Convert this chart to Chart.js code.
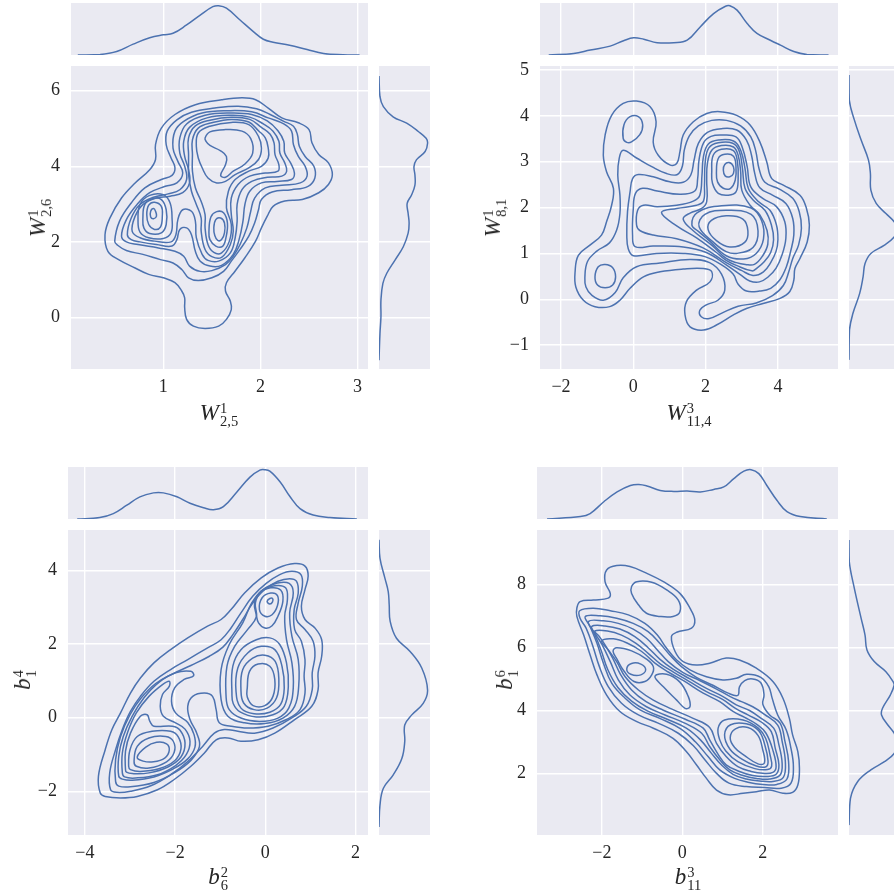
<!DOCTYPE html>
<html>
<head>
<meta charset="utf-8">
<script src="https://cdn.jsdelivr.net/npm/chart.js"></script>
<style>
html,body{margin:0;padding:0;background:#fff;width:894px;height:890px;overflow:hidden;position:relative;}
.cv{position:absolute;}
.alab{position:absolute;font-family:'Liberation Serif','DejaVu Serif',serif;font-size:23px;color:#262626;white-space:nowrap;display:flex;align-items:center;line-height:1;}
.alab .ss{display:inline-flex;flex-direction:column;align-items:flex-start;font-size:14.5px;line-height:13px;margin-left:1px;position:relative;top:3px;}
</style>
</head>
<body>
<script>
// ---------------- DATA ----------------
// Tick values
const p1XTicks=[1,2,3], p1YTicks=[0,2,4,6];
const p2XTicks=[-2,0,2,4], p2YTicks=[-1,0,1,2,3,4,5];
const p3XTicks=[-4,-2,0,2], p3YTicks=[-2,0,2,4];
const p4XTicks=[-2,0,2], p4YTicks=[2,4,6,8];

// Axis labels [symbol, superscript, subscript]
const p1XLabel=['W','1','2,5'], p1YLabel=['W','1','2,6'];
const p2XLabel=['W','3','11,4'], p2YLabel=['W','1','8,1'];
const p3XLabel=['b','2','6'], p3YLabel=['b','4','1'];
const p4XLabel=['b','3','11'], p4YLabel=['b','6','1'];

// ---- Panel 1 KDE contour lines (x, y) ----
const p1c1=[[0.40,2.19],[0.45,2.63],[0.57,3.16],[0.71,3.56],[0.86,3.91],[0.92,4.18],[0.92,4.57],[0.98,5.01],[1.12,5.37],[1.33,5.63],[1.60,5.76],[1.81,5.81],[1.95,5.76],[2.08,5.54],[2.22,5.28],[2.39,5.15],[2.50,4.97],[2.53,4.62],[2.60,4.31],[2.70,4.09],[2.74,3.78],[2.70,3.52],[2.60,3.30],[2.43,3.12],[2.25,3.08],[2.13,2.94],[2.07,2.68],[2.01,2.37],[1.95,2.02],[1.84,1.58],[1.74,1.23],[1.65,0.92],[1.64,0.70],[1.69,0.43],[1.70,0.21],[1.65,-0.05],[1.57,-0.23],[1.43,-0.29],[1.31,-0.23],[1.24,-0.05],[1.22,0.26],[1.22,0.52],[1.19,0.70],[1.12,0.92],[1.00,1.05],[0.85,1.14],[0.71,1.31],[0.54,1.53],[0.43,1.75]];
const p1c2=[[0.50,2.02],[0.55,2.55],[0.67,3.03],[0.81,3.43],[0.98,3.65],[1.09,3.76],[1.12,3.96],[1.08,4.22],[1.03,4.57],[1.04,4.93],[1.14,5.23],[1.29,5.43],[1.53,5.54],[1.77,5.59],[1.96,5.52],[2.10,5.37],[2.24,5.19],[2.34,5.06],[2.38,4.84],[2.40,4.53],[2.46,4.26],[2.55,4.00],[2.56,3.69],[2.49,3.47],[2.32,3.38],[2.12,3.32],[2.01,3.12],[1.98,2.85],[1.94,2.50],[1.88,2.15],[1.79,1.80],[1.70,1.49],[1.62,1.22],[1.50,1.05],[1.36,0.98],[1.26,1.05],[1.19,1.27],[1.10,1.44],[0.97,1.53],[0.79,1.67],[0.62,1.77],[0.53,1.91]];
const p1c3=[[0.57,2.15],[0.62,2.59],[0.73,2.99],[0.86,3.30],[1.02,3.47],[1.14,3.56],[1.20,3.82],[1.15,4.13],[1.10,4.48],[1.12,4.93],[1.21,5.19],[1.40,5.41],[1.67,5.47],[1.91,5.44],[2.08,5.28],[2.24,5.12],[2.32,4.93],[2.34,4.57],[2.39,4.26],[2.46,4.00],[2.48,3.74],[2.41,3.56],[2.22,3.50],[2.05,3.43],[1.94,3.16],[1.90,2.81],[1.86,2.37],[1.79,1.93],[1.72,1.62],[1.64,1.40],[1.50,1.24],[1.38,1.22],[1.27,1.36],[1.21,1.62],[1.12,1.75],[0.95,1.84],[0.74,1.93],[0.62,2.00]];
const p1c4=[[0.63,2.19],[0.67,2.63],[0.76,2.99],[0.90,3.18],[1.05,3.27],[1.17,3.38],[1.24,3.65],[1.22,4.00],[1.17,4.35],[1.17,4.75],[1.24,5.12],[1.43,5.35],[1.70,5.41],[1.91,5.37],[2.07,5.20],[2.18,4.94],[2.24,4.66],[2.25,4.35],[2.31,4.09],[2.35,3.82],[2.32,3.65],[2.17,3.60],[2.01,3.56],[1.89,3.34],[1.84,2.99],[1.82,2.55],[1.78,2.06],[1.72,1.67],[1.60,1.38],[1.48,1.36],[1.38,1.49],[1.33,1.75],[1.29,2.19],[1.24,2.37],[1.17,2.33],[1.14,2.06],[1.09,1.89],[0.93,1.93],[0.76,2.00],[0.67,2.06]];
const p1c5=[[0.68,2.28],[0.71,2.68],[0.79,2.99],[0.91,3.15],[1.07,3.21],[1.20,3.30],[1.27,3.56],[1.26,3.91],[1.22,4.26],[1.21,4.66],[1.27,5.03],[1.45,5.28],[1.70,5.35],[1.89,5.30],[2.03,5.12],[2.13,4.93],[2.19,4.66],[2.20,4.35],[2.25,4.09],[2.27,3.87],[2.22,3.74],[2.07,3.71],[1.91,3.60],[1.81,3.38],[1.76,2.99],[1.76,2.55],[1.74,2.11],[1.69,1.71],[1.57,1.49],[1.46,1.51],[1.40,1.67],[1.34,2.11],[1.33,2.55],[1.29,2.81],[1.20,2.85],[1.15,2.59],[1.13,2.19],[1.08,2.00],[0.91,2.02],[0.76,2.11]];
const p1c6a=[[0.74,2.55],[0.76,2.99],[0.86,3.23],[1.00,3.25],[1.07,3.03],[1.09,2.63],[1.08,2.24],[1.00,2.09],[0.85,2.11],[0.76,2.26]];
const p1c7a=[[0.79,2.63],[0.81,2.99],[0.89,3.14],[0.98,3.12],[1.03,2.85],[1.03,2.46],[0.98,2.24],[0.86,2.22],[0.80,2.37]];
const p1c8a=[[0.83,2.72],[0.85,2.97],[0.91,3.05],[0.98,2.94],[0.99,2.68],[0.97,2.39],[0.91,2.33],[0.85,2.46]];
const p1c9a=[[0.87,2.81],[0.90,2.88],[0.92,2.81],[0.93,2.68],[0.90,2.61],[0.87,2.66]];
const p1c6b=[[1.26,4.31],[1.26,4.75],[1.33,5.07],[1.48,5.22],[1.70,5.30],[1.89,5.24],[2.01,5.03],[2.10,4.85],[2.14,4.62],[2.15,4.31],[2.19,4.04],[2.18,3.87],[2.05,3.82],[1.89,3.74],[1.77,3.52],[1.70,3.16],[1.70,2.72],[1.72,2.28],[1.69,1.93],[1.60,1.59],[1.50,1.61],[1.43,1.80],[1.39,2.28],[1.39,2.63],[1.34,2.99],[1.29,3.34],[1.26,3.78],[1.26,4.04]];
const p1c7b=[[1.30,4.31],[1.30,4.70],[1.36,5.01],[1.50,5.15],[1.70,5.24],[1.88,5.17],[1.98,4.94],[2.05,4.75],[2.08,4.48],[2.08,4.22],[2.01,4.00],[1.88,3.87],[1.74,3.65],[1.67,3.34],[1.65,2.90],[1.70,2.46],[1.68,2.02],[1.60,1.71],[1.52,1.72],[1.46,1.93],[1.43,2.37],[1.43,2.72],[1.39,3.07],[1.33,3.43],[1.30,3.87]];
const p1c8b=[[1.34,4.53],[1.36,4.88],[1.48,5.06],[1.70,5.16],[1.88,5.10],[1.98,4.79],[2.01,4.48],[1.98,4.18],[1.88,3.96],[1.74,3.78],[1.64,3.60],[1.55,3.56],[1.46,3.69],[1.40,3.96],[1.36,4.22]];
const p1c9b=[[1.43,4.75],[1.48,4.91],[1.64,4.97],[1.81,4.93],[1.90,4.73],[1.92,4.35],[1.84,4.06],[1.72,3.87],[1.64,3.71],[1.59,3.76],[1.64,4.04],[1.65,4.26],[1.59,4.41],[1.48,4.55],[1.44,4.66]];
const p1c8c=[[1.47,2.28],[1.49,2.66],[1.55,2.80],[1.62,2.77],[1.66,2.50],[1.645,2.11],[1.61,1.88],[1.54,1.89],[1.48,2.06]];
const p1c9c=[[1.52,2.37],[1.54,2.59],[1.59,2.63],[1.63,2.50],[1.63,2.24],[1.60,2.06],[1.56,2.04],[1.53,2.17]];
const p1Contours=[p1c1,p1c2,p1c3,p1c4,p1c5,p1c6a,p1c7a,p1c8a,p1c9a,p1c6b,p1c7b,p1c8b,p1c9b,p1c8c,p1c9c];
// Panel 1 marginals (relative density)
const p1MargX=[0.12,0.35,0.52,0.69,0.86,1.00,1.10,1.24,1.38,1.51,1.57,1.65,1.79,1.93,2.03,2.13,2.30,2.48,2.65,2.85,3.02];
const p1MargXDens=[0,0.01,0.07,0.22,0.35,0.41,0.44,0.61,0.81,0.98,1.00,0.95,0.71,0.47,0.32,0.26,0.20,0.11,0.03,0.005,0];
const p1MargY=[6.39,5.84,5.58,5.31,5.14,4.92,4.74,4.61,4.39,4.17,3.99,3.77,3.50,3.24,3.02,2.75,2.49,2.23,1.87,1.52,1.17,0.90,0.46,0.02,-0.42,-1.13];
const p1MargYDens=[0,0.02,0.09,0.29,0.57,0.81,0.97,1.00,0.95,0.77,0.72,0.74,0.74,0.67,0.58,0.60,0.62,0.60,0.50,0.33,0.16,0.08,0.04,0.04,0.02,0];

// ---- Panel 2 ----
const p2c1=[[-1.61,0.60],[-1.52,0.96],[-1.20,1.18],[-0.88,1.40],[-0.74,1.69],[-0.60,2.05],[-0.55,2.42],[-0.74,2.78],[-0.83,3.14],[-0.78,3.58],[-0.60,4.01],[-0.28,4.27],[0.09,4.32],[0.46,4.20],[0.63,3.87],[0.55,3.43],[0.69,3.14],[1.01,2.93],[1.20,2.96],[1.29,3.22],[1.38,3.58],[1.66,3.87],[2.03,4.05],[2.40,4.09],[2.86,4.01],[3.23,3.80],[3.50,3.43],[3.69,3.00],[3.83,2.63],[4.15,2.49],[4.61,2.27],[4.79,1.98],[4.87,1.62],[4.81,1.25],[4.61,0.89],[4.47,0.67],[4.44,0.42],[4.33,0.17],[4.06,0.02],[3.59,-0.09],[3.13,-0.20],[2.77,-0.34],[2.30,-0.56],[1.94,-0.67],[1.57,-0.60],[1.43,-0.34],[1.47,-0.05],[1.75,0.20],[2.12,0.38],[2.17,0.60],[1.94,0.67],[1.38,0.66],[0.74,0.60],[0.28,0.49],[-0.09,0.24],[-0.37,-0.02],[-0.65,-0.16],[-1.06,-0.16],[-1.38,-0.02],[-1.59,0.27]];
const p2c2=[[-1.34,0.47],[-1.27,0.82],[-1.01,1.05],[-0.66,1.23],[-0.46,1.51],[-0.37,1.87],[-0.37,2.27],[-0.43,2.71],[-0.39,3.07],[-0.28,3.25],[0.09,3.08],[0.51,2.89],[0.92,2.74],[1.22,2.72],[1.36,2.91],[1.41,3.25],[1.55,3.56],[1.80,3.78],[2.17,3.90],[2.58,3.90],[2.97,3.78],[3.25,3.54],[3.39,3.22],[3.48,2.84],[3.64,2.55],[4.04,2.40],[4.41,2.20],[4.59,1.91],[4.65,1.55],[4.57,1.18],[4.41,0.89],[4.30,0.60],[4.15,0.30],[3.85,0.08],[3.40,-0.08],[2.90,-0.15],[2.45,-0.30],[2.10,-0.42],[1.88,-0.38],[1.84,-0.24],[2.02,-0.12],[2.34,-0.02],[2.53,0.20],[2.44,0.55],[2.11,0.80],[1.56,0.87],[0.74,0.79],[0.09,0.71],[-0.28,0.47],[-0.50,0.15],[-0.83,-0.02],[-1.15,0.09],[-1.31,0.27]];
const p2c3=[[-0.18,1.40],[-0.16,1.91],[-0.09,2.34],[-0.02,2.63],[0.14,2.72],[0.55,2.67],[1.01,2.56],[1.38,2.55],[1.59,2.71],[1.68,3.03],[1.80,3.40],[2.05,3.64],[2.44,3.72],[2.86,3.69],[3.13,3.47],[3.27,3.14],[3.36,2.74],[3.50,2.43],[3.85,2.27],[4.22,2.09],[4.41,1.76],[4.44,1.40],[4.35,1.04],[4.23,0.70],[4.05,0.42],[3.80,0.24],[3.49,0.18],[3.13,0.18],[2.90,0.33],[2.76,0.55],[2.44,0.75],[1.98,0.93],[1.38,1.00],[0.64,1.00],[0.00,0.95],[-0.14,1.10]];
const p2c4=[[-0.02,1.40],[0.00,1.98],[0.06,2.31],[0.26,2.42],[0.66,2.36],[1.29,2.29],[1.70,2.36],[1.78,2.63],[1.82,3.05],[1.95,3.42],[2.15,3.55],[2.44,3.58],[2.84,3.54],[3.02,3.30],[3.15,2.89],[3.25,2.45],[3.58,2.20],[3.96,2.02],[4.19,1.69],[4.22,1.33],[4.12,0.98],[3.95,0.68],[3.72,0.48],[3.49,0.38],[3.22,0.40],[2.99,0.52],[2.57,0.75],[2.02,1.02],[1.38,1.14],[0.55,1.16],[0.05,1.15]];
const p2c5=[[0.09,1.62],[0.12,1.94],[0.28,2.05],[0.66,2.02],[1.20,2.05],[1.66,2.14],[1.84,2.27],[1.90,2.71],[1.94,3.11],[2.07,3.38],[2.35,3.47],[2.77,3.45],[2.97,3.25],[3.09,2.85],[3.18,2.42],[3.46,2.13],[3.78,1.94],[3.96,1.62],[4.00,1.30],[3.95,1.05],[3.80,0.80],[3.60,0.60],[3.31,0.52],[2.99,0.63],[2.57,0.80],[1.93,1.12],[1.20,1.32],[0.55,1.40],[0.18,1.50]];
const p2c6=[[0.78,1.89],[1.20,1.98],[1.75,2.05],[1.94,2.14],[1.97,2.49],[1.99,3.00],[2.09,3.30],[2.35,3.41],[2.75,3.40],[2.93,3.23],[3.02,2.85],[3.09,2.42],[3.32,2.16],[3.64,1.94],[3.82,1.62],[3.88,1.30],[3.80,1.02],[3.62,0.82],[3.42,0.68],[3.28,0.62],[2.85,0.74],[2.57,0.85],[2.30,1.02],[1.75,1.34],[1.20,1.60]];
const p2c7=[[1.38,1.75],[1.57,1.88],[1.89,1.98],[2.03,2.13],[2.03,2.60],[2.05,2.96],[2.17,3.25],[2.44,3.35],[2.77,3.32],[2.90,3.14],[2.97,2.78],[3.00,2.38],[3.23,2.05],[3.50,1.84],[3.70,1.50],[3.72,1.20],[3.58,0.95],[3.35,0.76],[3.10,0.76],[2.85,0.80],[2.57,0.89],[2.20,1.16],[1.65,1.50]];
const p2c8a=[[1.62,1.62],[1.77,1.89],[2.44,2.04],[3.26,1.99],[3.55,1.71],[3.60,1.31],[3.40,1.00],[3.05,0.88],[2.57,0.95],[2.10,1.28],[1.80,1.48]];
const p2c9a=[[1.82,1.58],[1.98,1.85],[2.57,1.94],[3.26,1.85],[3.45,1.49],[3.31,1.13],[2.85,1.00],[2.57,1.04],[2.25,1.22]];
const p2c10a=[[2.07,1.52],[2.16,1.72],[2.57,1.82],[3.03,1.75],[3.17,1.49],[3.08,1.24],[2.67,1.14],[2.30,1.28]];
const p2c8b=[[2.17,2.78],[2.21,3.14],[2.44,3.27],[2.77,3.24],[2.88,3.00],[2.90,2.63],[2.84,2.34],[2.63,2.27],[2.35,2.31],[2.19,2.53]];
const p2c9b=[[2.30,2.78],[2.35,3.07],[2.53,3.16],[2.77,3.12],[2.84,2.89],[2.82,2.60],[2.69,2.42],[2.49,2.42],[2.33,2.56]];
const p2c10b=[[2.49,2.82],[2.53,2.94],[2.65,2.98],[2.77,2.89],[2.77,2.74],[2.67,2.67],[2.54,2.69]];
const p2c2c=[[-0.28,3.51],[-0.26,3.80],[-0.09,3.98],[0.14,3.98],[0.26,3.80],[0.18,3.59],[-0.05,3.43],[-0.18,3.42]];
const p2c3d=[[-1.06,0.49],[-0.97,0.71],[-0.78,0.76],[-0.57,0.69],[-0.49,0.49],[-0.57,0.31],[-0.78,0.25],[-0.99,0.31]];
const p2Contours=[p2c1,p2c2,p2c3,p2c4,p2c5,p2c6,p2c7,p2c8a,p2c9a,p2c10a,p2c8b,p2c9b,p2c10b,p2c2c,p2c3d];
const p2MargX=[-2.34,-1.65,-1.19,-0.64,-0.27,0.01,0.29,0.66,1.12,1.49,1.85,2.22,2.55,2.67,2.87,3.15,3.42,3.79,4.07,4.44,4.80,5.40];
const p2MargXDens=[0,0.03,0.10,0.18,0.29,0.35,0.32,0.25,0.25,0.30,0.57,0.84,0.99,1.00,0.91,0.64,0.44,0.30,0.20,0.07,0.01,0];
const p2MargY=[4.89,4.34,3.91,3.47,3.04,2.75,2.38,2.09,1.87,1.69,1.52,1.36,1.18,1.00,0.78,0.49,0.13,-0.31,-0.67,-1.32];
const p2MargYDens=[0,0.006,0.11,0.25,0.40,0.44,0.45,0.56,0.76,0.93,1.00,0.93,0.73,0.45,0.33,0.29,0.22,0.08,0.01,0];

// ---- Panel 3 ----
const p3c1=[[-3.66,-2.05],[-3.70,-1.59],[-3.55,-0.87],[-3.40,-0.32],[-3.21,0.13],[-2.99,0.67],[-2.77,1.08],[-2.47,1.49],[-2.10,1.85],[-1.72,2.17],[-1.28,2.49],[-0.98,2.67],[-0.76,2.94],[-0.46,3.39],[-0.09,3.80],[0.28,4.07],[0.65,4.19],[0.88,4.12],[0.95,3.85],[0.88,3.48],[0.80,3.03],[0.88,2.67],[1.10,2.44],[1.25,2.12],[1.25,1.67],[1.17,1.22],[1.17,0.76],[1.03,0.31],[0.65,-0.05],[0.21,-0.42],[-0.16,-0.60],[-0.54,-0.64],[-0.83,-0.55],[-1.09,-0.60],[-1.35,-0.96],[-1.65,-1.32],[-2.02,-1.68],[-2.39,-1.96],[-2.84,-2.14],[-3.21,-2.18],[-3.55,-2.14]];
const p3c2=[[-3.43,-1.96],[-3.45,-1.50],[-3.32,-0.87],[-3.17,-0.32],[-2.99,0.17],[-2.77,0.58],[-2.47,0.99],[-2.10,1.31],[-1.72,1.58],[-1.28,1.90],[-0.98,2.12],[-0.76,2.44],[-0.54,2.85],[-0.28,3.30],[0.02,3.65],[0.32,3.89],[0.59,3.98],[0.79,3.89],[0.82,3.57],[0.73,3.12],[0.69,2.67],[0.88,2.40],[1.06,2.08],[1.10,1.67],[1.04,1.22],[1.04,0.76],[0.91,0.31],[0.58,-0.01],[0.17,-0.28],[-0.24,-0.42],[-0.61,-0.37],[-0.91,-0.32],[-1.13,-0.42],[-1.39,-0.78],[-1.72,-1.19],[-2.10,-1.55],[-2.54,-1.85],[-2.99,-2.00],[-3.29,-2.03]];
const p3c3=[[-3.32,-1.73],[-3.32,-1.14],[-3.21,-0.51],[-3.00,0.08],[-2.75,0.54],[-2.43,0.93],[-2.04,1.20],[-1.65,1.42],[-1.24,1.67],[-0.94,1.92],[-0.72,2.26],[-0.50,2.67],[-0.28,3.12],[-0.03,3.47],[0.28,3.71],[0.54,3.78],[0.69,3.71],[0.73,3.39],[0.64,2.94],[0.65,2.40],[0.80,2.08],[0.88,1.58],[0.86,1.13],[0.88,0.67],[0.77,0.22],[0.47,-0.05],[0.06,-0.23],[-0.39,-0.28],[-0.76,-0.23],[-1.02,-0.14],[-1.09,0.22],[-1.17,0.58],[-1.35,0.67],[-1.61,0.58],[-1.72,0.31],[-1.67,-0.05],[-1.52,-0.42],[-1.46,-0.78],[-1.65,-1.16],[-2.02,-1.50],[-2.47,-1.76],[-2.99,-1.88],[-3.25,-1.86]];
const p3c4a=[[-3.25,-1.59],[-3.25,-1.05],[-3.15,-0.51],[-2.95,0.04],[-2.69,0.54],[-2.36,0.96],[-1.99,1.22],[-1.65,1.26],[-1.59,1.14],[-1.80,1.04],[-2.01,0.81],[-2.08,0.45],[-1.99,0.13],[-1.72,-0.13],[-1.58,-0.46],[-1.56,-0.80],[-1.72,-1.12],[-2.04,-1.39],[-2.47,-1.61],[-2.95,-1.70],[-3.17,-1.67]];
const p3c5a=[[-3.17,-1.50],[-3.17,-0.96],[-3.06,-0.42],[-2.86,0.13],[-2.58,0.58],[-2.28,0.90],[-2.13,0.99],[-2.13,0.85],[-2.28,0.63],[-2.33,0.31],[-2.26,0.04],[-1.99,-0.14],[-1.78,-0.31],[-1.67,-0.64],[-1.75,-1.00],[-1.99,-1.30],[-2.39,-1.55],[-2.88,-1.64],[-3.12,-1.61]];
const p3c6a=[[-3.10,-1.41],[-3.10,-0.91],[-2.99,-0.42],[-2.77,0.04],[-2.62,0.08],[-2.56,-0.10],[-2.47,-0.23],[-2.06,-0.23],[-1.89,-0.34],[-1.78,-0.69],[-1.87,-1.07],[-2.16,-1.34],[-2.58,-1.50],[-2.95,-1.52],[-3.08,-1.48]];
const p3c7a=[[-3.03,-1.32],[-3.00,-0.87],[-2.84,-0.51],[-2.51,-0.37],[-2.10,-0.37],[-1.93,-0.52],[-1.87,-0.85],[-2.01,-1.17],[-2.36,-1.39],[-2.77,-1.46],[-2.99,-1.41]];
const p3c8a=[[-2.91,-1.19],[-2.84,-0.78],[-2.58,-0.55],[-2.21,-0.51],[-2.04,-0.64],[-2.02,-0.94],[-2.19,-1.20],[-2.58,-1.37],[-2.86,-1.32]];
const p3c9a=[[-2.84,-1.07],[-2.65,-0.80],[-2.41,-0.67],[-2.19,-0.71],[-2.13,-0.89],[-2.23,-1.10],[-2.48,-1.20],[-2.71,-1.18]];
const p3c4b=[[-0.98,0.49],[-0.98,1.31],[-0.80,1.99],[-0.50,2.58],[-0.30,3.12],[-0.05,3.48],[0.27,3.66],[0.53,3.65],[0.62,3.39],[0.54,2.85],[0.59,2.21],[0.73,1.58],[0.74,0.85],[0.65,0.31],[0.39,-0.01],[-0.01,-0.16],[-0.46,-0.14],[-0.83,0.04]];
const p3c5b=[[-0.87,0.58],[-0.85,1.40],[-0.68,1.94],[-0.39,2.40],[-0.20,2.74],[-0.22,3.12],[-0.09,3.44],[0.21,3.59],[0.45,3.53],[0.49,3.21],[0.43,2.76],[0.47,2.12],[0.59,1.49],[0.62,0.81],[0.52,0.26],[0.28,-0.01],[-0.13,-0.10],[-0.54,-0.01],[-0.80,0.22]];
const p3c6b=[[-0.74,0.67],[-0.72,1.40],[-0.54,1.85],[-0.20,2.12],[0.10,2.17],[0.32,1.99],[0.47,1.49],[0.51,0.85],[0.42,0.31],[0.17,0.08],[-0.20,0.02],[-0.55,0.15],[-0.71,0.38]];
const p3c6c=[[-0.20,2.80],[-0.24,3.12],[-0.13,3.39],[0.12,3.53],[0.34,3.47],[0.39,3.17],[0.28,2.76],[0.15,2.50],[-0.01,2.44],[-0.15,2.58]];
const p3c7b=[[-0.65,0.72],[-0.61,1.35],[-0.39,1.76],[-0.09,1.94],[0.21,1.85],[0.37,1.40],[0.42,0.81],[0.34,0.36],[0.10,0.15],[-0.25,0.11],[-0.54,0.26]];
const p3c7c=[[-0.13,2.94],[-0.07,3.26],[0.12,3.39],[0.27,3.32],[0.27,3.05],[0.15,2.80],[-0.01,2.76]];
const p3c8b=[[-0.54,0.76],[-0.50,1.31],[-0.28,1.62],[-0.01,1.70],[0.22,1.53],[0.30,1.04],[0.25,0.54],[0.04,0.26],[-0.25,0.22],[-0.48,0.40]];
const p3c8c=[[0.04,3.16],[0.10,3.24],[0.16,3.24],[0.16,3.15],[0.10,3.09]];
const p3c9b=[[-0.40,0.81],[-0.35,1.26],[-0.16,1.46],[0.10,1.40],[0.21,1.04],[0.17,0.58],[-0.01,0.33],[-0.27,0.33],[-0.40,0.56]];
const p3Contours=[p3c1,p3c2,p3c3,p3c4a,p3c5a,p3c6a,p3c7a,p3c8a,p3c9a,p3c4b,p3c5b,p3c6b,p3c6c,p3c7b,p3c7c,p3c8b,p3c8c,p3c9b];
const p3MargX=[-4.17,-3.67,-3.37,-3.07,-2.78,-2.48,-2.26,-1.96,-1.67,-1.37,-1.15,-0.93,-0.63,-0.34,-0.12,-0.02,0.10,0.33,0.55,0.77,1.06,1.43,2.03];
const p3MargXDens=[0,0.03,0.11,0.28,0.45,0.53,0.53,0.45,0.32,0.23,0.19,0.25,0.55,0.85,0.99,1.00,0.97,0.75,0.45,0.21,0.08,0.03,0];
const p3MargY=[4.84,4.34,3.80,3.43,3.07,2.62,2.16,1.80,1.35,0.75,0.39,0.07,-0.20,-0.65,-1.11,-1.56,-1.92,-2.38,-2.97];
const p3MargYDens=[0,0.02,0.12,0.19,0.21,0.23,0.36,0.64,0.88,1.00,0.91,0.67,0.53,0.53,0.47,0.29,0.09,0.02,0];

// ---- Panel 4 ----
const p4c1=[[-2.62,7.24],[-2.54,7.45],[-2.21,7.50],[-1.84,7.56],[-1.79,7.71],[-1.92,8.08],[-1.88,8.45],[-1.63,8.59],[-1.30,8.56],[-0.89,8.35],[-0.47,8.08],[-0.06,7.71],[0.19,7.24],[0.31,6.87],[0.23,6.61],[-0.14,6.48],[-0.27,6.34],[-0.18,5.87],[0.02,5.55],[0.35,5.44],[0.68,5.50],[1.09,5.66],[1.42,5.60],[1.84,5.34],[2.25,4.92],[2.50,4.39],[2.66,3.75],[2.74,3.23],[2.87,2.70],[2.91,2.17],[2.87,1.64],[2.74,1.41],[2.50,1.38],[2.17,1.48],[1.84,1.43],[1.51,1.38],[1.14,1.33],[0.85,1.48],[0.60,1.85],[0.35,2.28],[0.10,2.70],[-0.23,3.12],[-0.72,3.44],[-1.13,3.65],[-1.55,3.97],[-1.88,4.49],[-2.12,5.13],[-2.29,5.76],[-2.45,6.39],[-2.62,6.98]];
const p4c2a=[[-1.26,7.93],[-1.13,8.08],[-0.76,8.06],[-0.39,7.82],[-0.10,7.50],[-0.06,7.13],[-0.23,6.98],[-0.56,6.98],[-0.89,7.08],[-1.09,7.35],[-1.26,7.71]];
const p4c2=[[-2.55,7.16],[-2.21,7.24],[-1.79,7.16],[-1.34,7.03],[-0.93,6.76],[-0.62,6.39],[-0.39,5.97],[-0.14,5.60],[0.19,5.29],[0.60,5.07],[1.01,4.97],[1.34,5.02],[1.60,5.15],[1.95,5.05],[2.15,4.75],[2.23,4.40],[2.37,3.86],[2.58,3.39],[2.70,2.80],[2.76,2.22],[2.70,1.70],[2.46,1.54],[2.04,1.56],[1.59,1.59],[1.16,1.70],[0.85,2.01],[0.56,2.44],[0.27,2.89],[-0.10,3.28],[-0.60,3.60],[-1.09,3.86],[-1.51,4.23],[-1.84,4.76],[-2.06,5.39],[-2.22,6.03],[-2.39,6.61],[-2.54,6.92]];
const p4c3=[[-2.41,6.98],[-2.04,7.00],[-1.63,6.92],[-1.22,6.76],[-0.85,6.50],[-0.56,6.13],[-0.31,5.76],[-0.02,5.39],[0.35,5.05],[0.76,4.80],[1.14,4.55],[1.38,4.48],[1.42,4.75],[1.55,4.95],[1.75,5.00],[1.95,4.88],[2.03,4.50],[2.00,4.20],[2.17,3.86],[2.43,3.60],[2.55,3.02],[2.64,2.38],[2.60,1.83],[2.35,1.66],[2.00,1.66],[1.63,1.73],[1.30,1.85],[0.93,2.12],[0.64,2.54],[0.33,3.00],[-0.04,3.42],[-0.56,3.75],[-1.05,4.02],[-1.42,4.39],[-1.75,4.86],[-1.96,5.50],[-2.12,6.13],[-2.29,6.66]];
const p4c4=[[-2.33,6.82],[-1.96,6.84],[-1.59,6.76],[-1.22,6.58],[-0.89,6.29],[-0.62,5.92],[-0.35,5.55],[0.02,5.20],[0.43,4.95],[0.85,4.68],[1.18,4.45],[1.47,4.28],[1.75,4.12],[2.04,3.88],[2.37,3.54],[2.48,3.02],[2.56,2.38],[2.51,1.88],[2.25,1.75],[1.92,1.77],[1.59,1.83],[1.26,1.98],[0.97,2.28],[0.72,2.65],[0.45,3.07],[0.10,3.44],[-0.39,3.73],[-0.87,3.99],[-1.26,4.30],[-1.60,4.73],[-1.85,5.29],[-2.02,5.92],[-2.19,6.45]];
const p4c5=[[-2.25,6.66],[-1.92,6.68],[-1.55,6.58],[-1.18,6.34],[-0.85,5.99],[-0.56,5.63],[-0.23,5.31],[0.19,5.00],[0.60,4.70],[1.00,4.45],[1.34,4.18],[1.67,4.00],[1.96,3.75],[2.27,3.44],[2.40,2.91],[2.48,2.33],[2.43,1.96],[2.17,1.83],[1.84,1.85],[1.51,1.94],[1.18,2.12],[0.93,2.44],[0.68,2.86],[0.48,3.28],[0.06,3.60],[-0.43,3.86],[-0.89,4.12],[-1.30,4.49],[-1.59,4.97],[-1.79,5.55],[-2.00,6.10],[-2.14,6.39]];
const p4c6=[[-2.17,6.52],[-1.86,6.52],[-1.51,6.39],[-1.15,6.13],[-0.82,5.78],[-0.54,5.47],[-0.21,5.21],[0.20,4.90],[0.60,4.60],[1.00,4.35],[1.32,4.07],[1.63,3.86],[1.98,3.62],[2.21,3.33],[2.31,2.80],[2.40,2.28],[2.33,1.98],[2.08,1.91],[1.75,1.94],[1.42,2.07],[1.09,2.28],[0.89,2.61],[0.68,3.07],[0.52,3.44],[0.06,3.73],[-0.47,4.01],[-0.90,4.28],[-1.26,4.65],[-1.53,5.13],[-1.73,5.66],[-1.92,6.08],[-2.06,6.34]];
const p4c7=[[-2.00,6.20],[-1.71,6.27],[-1.36,6.13],[-1.01,5.87],[-0.68,5.50],[-0.35,5.22],[0.06,4.92],[0.52,4.55],[0.93,4.28],[1.26,3.97],[1.55,3.78],[1.85,3.56],[2.08,3.28],[2.26,2.70],[2.33,2.22],[2.25,2.04],[2.00,2.01],[1.71,2.07],[1.38,2.22],[1.09,2.54],[0.85,2.96],[0.68,3.46],[0.27,3.75],[-0.27,4.05],[-0.72,4.33],[-1.09,4.65],[-1.42,5.07],[-1.63,5.55],[-1.84,5.92]];
const p4c8a=[[-1.72,5.88],[-1.63,5.99],[-1.26,5.89],[-0.89,5.63],[-0.72,5.39],[-0.76,5.13],[-0.93,4.92],[-1.20,4.92],[-1.45,5.25],[-1.62,5.62]];
const p4c9a=[[-1.38,5.32],[-1.26,5.49],[-1.03,5.47],[-0.91,5.29],[-1.03,5.13],[-1.28,5.15]];
const p4c8b=[[-0.68,5.08],[-0.39,5.15],[-0.06,4.90],[0.15,4.44],[0.19,4.12],[0.07,4.07],[-0.14,4.33],[-0.47,4.75]];
const p4c8c=[[0.89,3.44],[1.05,3.70],[1.51,3.70],[1.88,3.45],[2.07,3.12],[2.18,2.59],[2.22,2.24],[2.12,2.13],[1.80,2.16],[1.38,2.38],[1.08,2.72],[0.93,3.07]];
const p4c9c=[[1.05,3.23],[1.20,3.55],[1.59,3.58],[1.90,3.36],[2.05,2.91],[2.13,2.40],[2.08,2.22],[1.84,2.24],[1.47,2.47],[1.18,2.78]];
const p4c10c=[[1.19,3.14],[1.32,3.42],[1.63,3.46],[1.88,3.21],[2.00,2.75],[2.04,2.34],[1.88,2.31],[1.55,2.57],[1.30,2.83]];
const p4Contours=[p4c1,p4c2a,p4c2,p4c3,p4c4,p4c5,p4c6,p4c7,p4c8a,p4c9a,p4c8b,p4c8c,p4c9c,p4c10c];
const p4MargX=[-3.36,-2.53,-2.29,-1.95,-1.62,-1.29,-1.08,-0.88,-0.55,-0.21,0.12,0.45,0.78,1.03,1.28,1.53,1.71,1.90,2.10,2.35,2.60,2.93,3.59];
const p4MargXDens=[0,0.05,0.11,0.35,0.55,0.68,0.70,0.67,0.58,0.56,0.57,0.55,0.60,0.65,0.82,0.97,1.00,0.92,0.68,0.38,0.15,0.05,0];
const p4MargY=[9.40,8.71,7.87,6.92,6.39,5.92,5.55,5.23,4.91,4.80,4.49,4.07,3.86,3.54,3.28,2.95,2.64,2.38,2.12,1.75,1.22,0.37];
const p4MargYDens=[0,0.006,0.11,0.25,0.33,0.37,0.52,0.76,0.91,0.93,0.85,0.69,0.67,0.80,0.93,1.00,0.93,0.73,0.45,0.18,0.03,0];

// ---------------- LAYOUT / STYLE ----------------
const BLUE='#4C72B0', BG='#EAEAF2', TXT='#262626';
const SERIF="'Liberation Serif','DejaVu Serif',serif";
const GRID={color:'#ffffff',lineWidth:1.4,drawTicks:false};
const fmt=v=>(v<0?'\u2212':'')+Math.abs(v);

const panels=[
 {l:71,t:66,r:368,b:369,mt:3,mb:55,ml:379,mr:430,xr:[0.050,3.107],yr:[-1.363,6.653],xt:p1XTicks,yt:p1YTicks,
  c:p1Contours,mx:p1MargX,mxd:p1MargXDens,my:p1MargY,myd:p1MargYDens,xl:p1XLabel,yl:p1YLabel,xlp:[219,412],ylp:[37,218]},
 {l:540,t:66,r:838,b:369,mt:3,mb:55,ml:849,mr:900,xr:[-2.581,5.662],yr:[-1.519,5.085],xt:p2XTicks,yt:p2YTicks,
  c:p2Contours,mx:p2MargX,mxd:p2MargXDens,my:p2MargY,myd:p2MargYDens,xl:p2XLabel,yl:p2YLabel,xlp:[689,412],ylp:[492,218]},
 {l:68,t:530,r:368,b:835,mt:467,mb:519,ml:379,mr:430,xr:[-4.375,2.277],yr:[-3.189,5.103],xt:p3XTicks,yt:p3YTicks,
  c:p3Contours,mx:p3MargX,mxd:p3MargXDens,my:p3MargY,myd:p3MargYDens,xl:p3XLabel,yl:p3YLabel,xlp:[218,876],ylp:[22,680]},
 {l:537,t:530,r:838,b:835,mt:467,mb:519,ml:849,mr:900,xr:[-3.610,3.868],yr:[0.057,9.718],xt:p4XTicks,yt:p4YTicks,
  c:p4Contours,mx:p4MargX,mxd:p4MargXDens,my:p4MargY,myd:p4MargYDens,xl:p4XLabel,yl:p4YLabel,xlp:[688,876],ylp:[504,680]}
];

const bgPlugin={id:'bgArea',beforeDraw(c){const a=c.chartArea,x=c.ctx;x.save();x.fillStyle=BG;x.fillRect(a.left,a.top,a.right-a.left,a.bottom-a.top);x.restore();}};
const loopPlugin={id:'closedLoops',afterDatasetUpdate(c,args){const ds=c.data.datasets[args.index];const el=args.meta.dataset;if(ds&&ds.closed&&el){el._loop=true;el._fullLoop=true;}}};

function canvasAt(l,t,w,h){const c=document.createElement('canvas');c.width=w;c.height=h;c.className='cv';c.style.left=l+'px';c.style.top=t+'px';c.style.width=w+'px';c.style.height=h+'px';document.body.appendChild(c);return c;}
const fixedTicks=vals=>s=>{s.ticks=vals.map(v=>({value:v}));};
const baseOpts=()=>({responsive:false,animation:false,events:[],plugins:{legend:{display:false},tooltip:{enabled:false}}});
const lineDs=(pts,closed)=>({data:pts,closed:closed,borderColor:BLUE,borderWidth:1.5,pointRadius:0,tension:0.4,fill:false});

function joint(P){
  const YW=50,XH=36,PT=30,PR=8;
  const w=YW+(P.r-P.l)+PR,h=PT+(P.b-P.t)+XH;
  const cv=canvasAt(P.l-YW,P.t-PT,w,h);
  const o=baseOpts();
  o.layout={padding:{left:0,top:PT,right:PR,bottom:0},autoPadding:false};
  o.scales={
    x:{type:'linear',min:P.xr[0],max:P.xr[1],afterBuildTicks:fixedTicks(P.xt),afterFit:s=>{s.height=XH;},grid:GRID,border:{display:false},
       ticks:{font:{family:SERIF,size:18},color:TXT,padding:7,maxRotation:0,autoSkip:false,callback:v=>fmt(v)}},
    y:{type:'linear',min:P.yr[0],max:P.yr[1],afterBuildTicks:fixedTicks(P.yt),afterFit:s=>{s.width=YW;},grid:GRID,border:{display:false},
       ticks:{font:{family:SERIF,size:18},color:TXT,padding:11,autoSkip:false,callback:v=>fmt(v)}}
  };
  new Chart(cv,{type:'line',data:{datasets:P.c.map(c=>lineDs(c.map(p=>({x:p[0],y:p[1]})),true))},options:o,plugins:[bgPlugin,loopPlugin]});
}
function topMarg(P){
  const cv=canvasAt(P.l,P.mt,P.r-P.l,P.mb-P.mt);
  const o=baseOpts();
  o.layout={padding:0,autoPadding:false};
  o.scales={
    x:{type:'linear',min:P.xr[0],max:P.xr[1],afterBuildTicks:fixedTicks(P.xt),afterFit:s=>{s.height=0;},grid:GRID,border:{display:false},ticks:{display:false}},
    y:{type:'linear',min:0,max:1.055,display:false}
  };
  new Chart(cv,{type:'line',data:{datasets:[lineDs(P.mx.map((x,i)=>({x:x,y:P.mxd[i]})),false)]},options:o,plugins:[bgPlugin]});
}
function rightMarg(P){
  const cv=canvasAt(P.ml,P.t,P.mr-P.ml,P.b-P.t);
  const o=baseOpts();
  o.layout={padding:0,autoPadding:false};
  o.scales={
    x:{type:'linear',min:0,max:1.05,display:false},
    y:{type:'linear',min:P.yr[0],max:P.yr[1],afterBuildTicks:fixedTicks(P.yt),afterFit:s=>{s.width=0;},grid:GRID,border:{display:false},ticks:{display:false}}
  };
  new Chart(cv,{type:'line',data:{datasets:[lineDs(P.my.map((y,i)=>({x:P.myd[i],y:y})),false)]},options:o,plugins:[bgPlugin]});
}
function axLabel(lab,pos,rot){
  const d=document.createElement('div');d.className='alab';
  const i=document.createElement('i');i.textContent=lab[0];
  const ss=document.createElement('span');ss.className='ss';
  const sp=document.createElement('span');sp.textContent=lab[1];
  const sb=document.createElement('span');sb.textContent=lab[2];
  ss.appendChild(sp);ss.appendChild(sb);d.appendChild(i);d.appendChild(ss);
  d.style.left=pos[0]+'px';d.style.top=pos[1]+'px';
  d.style.transform='translate(-50%,-50%)'+(rot?' rotate(-90deg)':'');
  document.body.appendChild(d);
}
panels.forEach(P=>{joint(P);topMarg(P);rightMarg(P);axLabel(P.xl,P.xlp,false);axLabel(P.yl,P.ylp,true);});
</script>
</body>
</html>
